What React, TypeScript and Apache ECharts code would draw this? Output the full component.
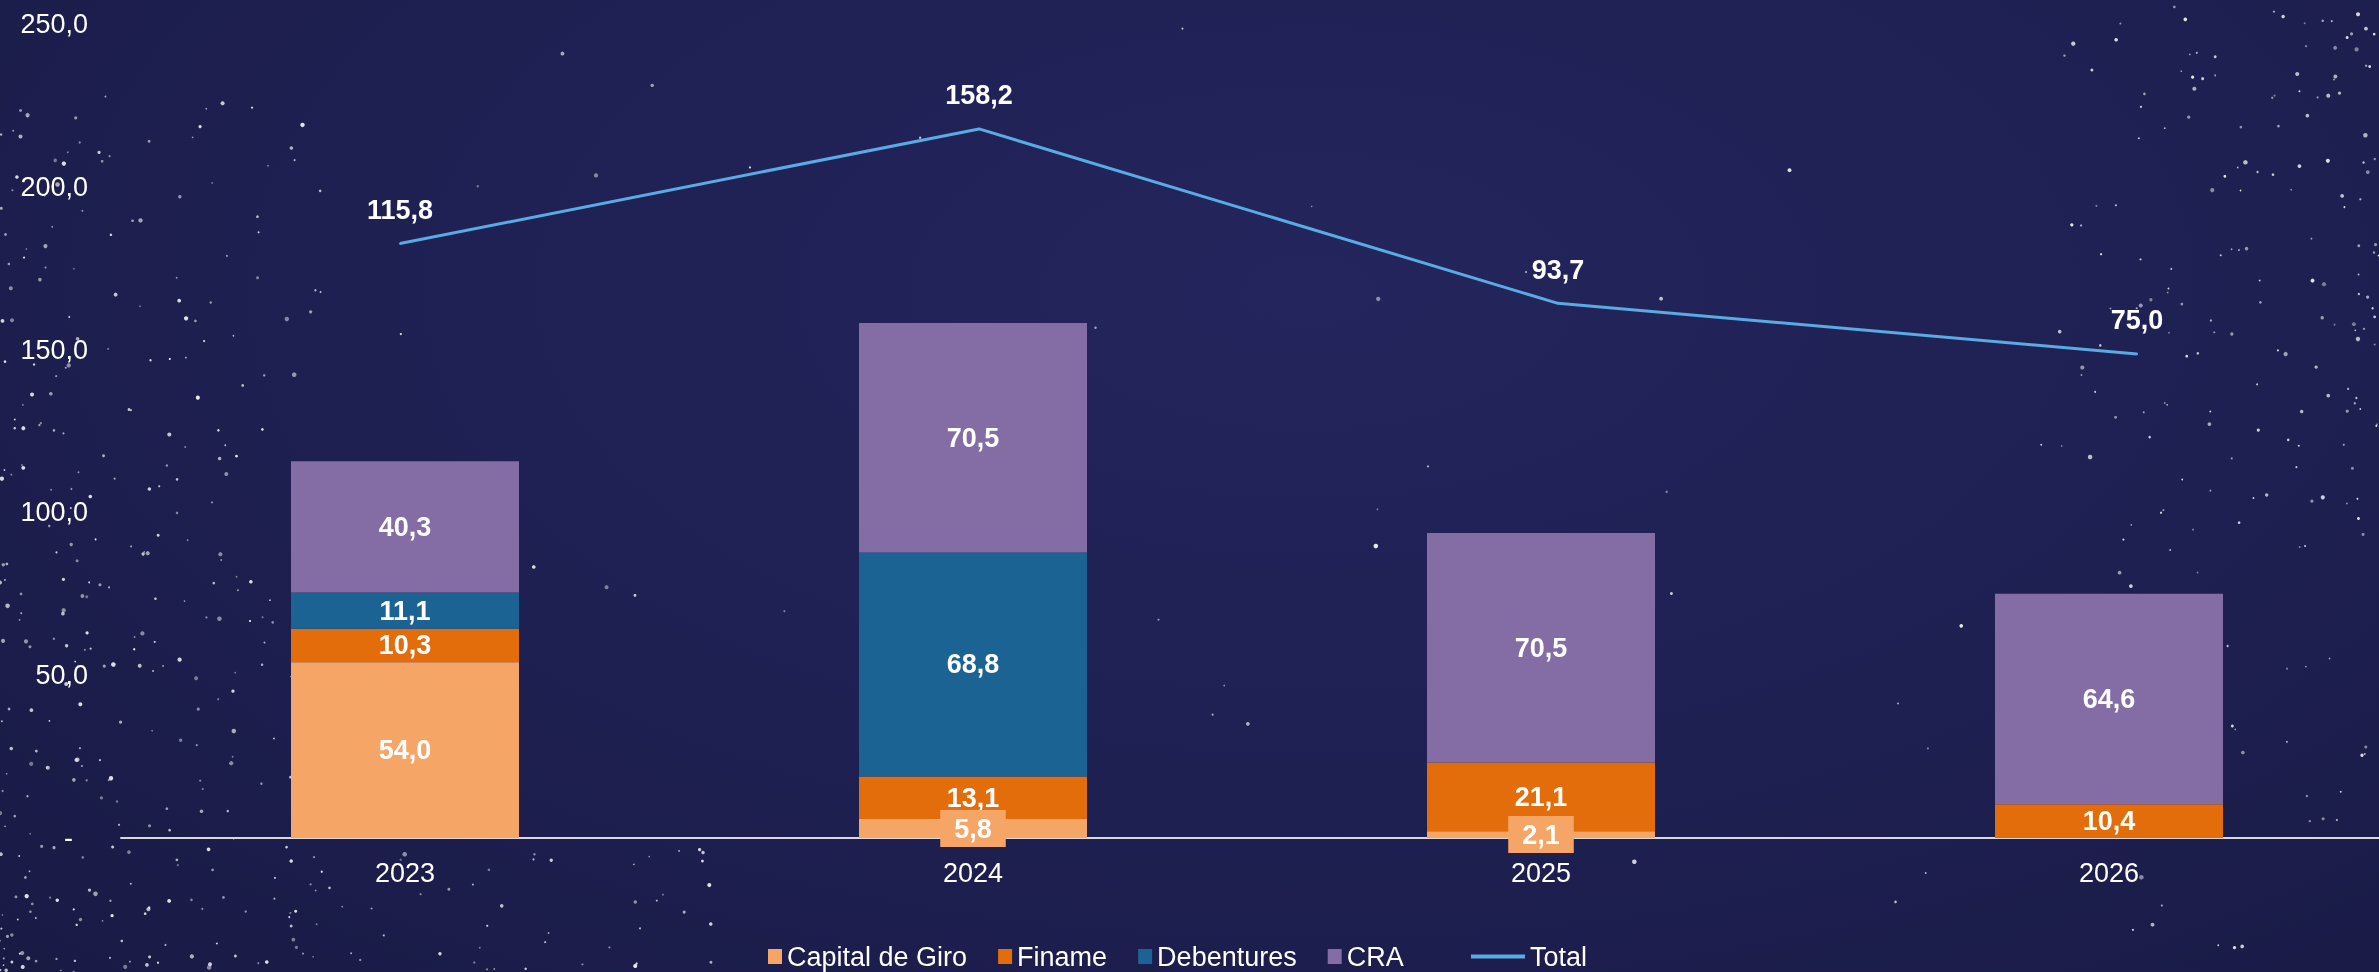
import React, { useEffect, useRef } from "react";
import * as echarts from "echarts";

const years = ["2023", "2024", "2025", "2026"];
const capitalDeGiro = [54.0, 5.8, 2.1, null];
const finame = [10.3, 13.1, 21.1, 10.4];
const debentures = [11.1, 68.8, null, null];
const cra = [40.3, 70.5, 70.5, 64.6];
const total = [115.8, 158.2, 93.7, 75.0];
const yTicks = [0, 50, 100, 150, 200, 250];

const FONT = "'Liberation Sans', Arial, sans-serif";
const COLORS = {
  capital: "#F5A666",
  finame: "#E36C0B",
  debentures: "#1B6393",
  cra: "#846CA5",
  total: "#59ABE3",
};

const fmt = (v: number) => v.toFixed(1).replace(".", ",");

function makeStars() {
  let s = 987654321;
  const rnd = () => {
    s = (Math.imul(s, 1664525) + 1013904223) >>> 0;
    return s / 4294967296;
  };
  const stars: any[] = [];
  const add = (x: number, y: number) => {
    const r = 0.8 + 1.5 * Math.pow(rnd(), 2);
    const a = 0.4 + 0.5 * rnd();
    stars.push({
      type: "circle",
      silent: true,
      z: 0,
      shape: { cx: x, cy: y, r },
      style: { fill: `rgba(255,255,255,${a.toFixed(2)})` },
    });
  };
  for (let i = 0; i < 320; i++) add(330 * Math.pow(rnd(), 1.5), 972 - 880 * Math.pow(rnd(), 1.3));
  for (let i = 0; i < 90; i++) add(720 * Math.pow(rnd(), 1.2), 845 + 127 * rnd());
  for (let i = 0; i < 170; i++) add(2379 - 320 * Math.pow(rnd(), 1.4), 560 * rnd());
  for (let i = 0; i < 45; i++) add(2379 - 260 * rnd(), 560 + 412 * rnd());
  for (let i = 0; i < 50; i++) add(330 + 1800 * rnd(), 972 * rnd());
  return stars;
}

export default function App() {
  const ref = useRef<HTMLDivElement>(null);
  useEffect(() => {
    if (!ref.current) return;
    const chart = echarts.init(ref.current, null, { renderer: "svg" });
    const barLabel = {
      show: true,
      position: "inside",
      color: "#FFFFFF",
      fontWeight: "bold",
      fontSize: 27,
      fontFamily: FONT,
      formatter: (p: any) => fmt(p.value),
    };
    const legendText = { color: "#FFFFFF", fontSize: 27, fontFamily: FONT };
    const option: any = {
      animation: false,
      backgroundColor: "transparent",
      textStyle: { fontFamily: FONT },
      graphic: { elements: makeStars() },
      grid: [
        { left: 121, width: 2272, top: 24, height: 814, containLabel: false },
        { left: 110.5, width: 2316, top: 24, height: 814, containLabel: false },
      ],
      legend: [
        {
          data: ["Capital de Giro", "Finame", "Debentures", "CRA"],
          left: 768,
          top: 943,
          padding: 0,
          icon: "rect",
          itemWidth: 14,
          itemHeight: 15,
          itemGap: 31,
          textStyle: legendText,
        },
        {
          data: ["Total"],
          left: 1471,
          top: 943,
          padding: 0,
          icon: "path://M0,0H54V4H0Z",
          itemWidth: 54,
          itemHeight: 15,
          textStyle: legendText,
        },
      ],
      xAxis: [
        {
          type: "category",
          gridIndex: 0,
          data: years,
          axisLine: { show: true, lineStyle: { color: "#D9D9D9", width: 2 } },
          axisTick: { show: false },
          axisLabel: { color: "#FFFFFF", fontSize: 27, margin: 21, fontFamily: FONT },
        },
        {
          type: "category",
          gridIndex: 1,
          data: years,
          show: false,
        },
      ],
      yAxis: [
        {
          type: "value",
          gridIndex: 0,
          min: yTicks[0],
          max: yTicks[yTicks.length - 1],
          interval: yTicks[1] - yTicks[0],
          axisLine: { show: false },
          axisTick: { show: false },
          splitLine: { show: false },
          axisLabel: {
            color: "#FFFFFF",
            fontSize: 27,
            margin: 33,
            fontFamily: FONT,
            formatter: (v: number) => (v === 0 ? "{z|-}" : fmt(v)),
            rich: { z: { color: "#FFFFFF", fontSize: 27, fontFamily: FONT, padding: [0, 15, 0, 0] } },
          },
        },
        {
          type: "value",
          gridIndex: 1,
          min: -104,
          max: 197,
          show: false,
          splitLine: { show: false },
        },
      ],
      series: [
        {
          name: "Capital de Giro",
          type: "bar",
          stack: "s",
          barWidth: 228,
          data: capitalDeGiro,
          itemStyle: { color: COLORS.capital },
          label: { ...barLabel, backgroundColor: COLORS.capital, padding: [5, 14] },
          z: 3,
        },
        {
          name: "Finame",
          type: "bar",
          stack: "s",
          barWidth: 228,
          data: finame,
          itemStyle: { color: COLORS.finame },
          label: barLabel,
          z: 2,
        },
        {
          name: "Debentures",
          type: "bar",
          stack: "s",
          barWidth: 228,
          data: debentures,
          itemStyle: { color: COLORS.debentures },
          label: barLabel,
          z: 2,
        },
        {
          name: "CRA",
          type: "bar",
          stack: "s",
          barWidth: 228,
          data: cra,
          itemStyle: { color: COLORS.cra },
          label: barLabel,
          z: 2,
        },
        {
          name: "Total",
          type: "line",
          xAxisIndex: 1,
          yAxisIndex: 1,
          data: total,
          symbol: "circle",
          symbolSize: 2,
          itemStyle: { color: COLORS.total },
          lineStyle: { color: COLORS.total, width: 3 },
          label: {
            show: true,
            position: "top",
            distance: 19,
            color: "#FFFFFF",
            fontWeight: "bold",
            fontSize: 27,
            fontFamily: FONT,
            formatter: (p: any) => fmt(p.value),
          },
          z: 4,
        },
      ],
    };
    chart.setOption(option);
    return () => chart.dispose();
  }, []);
  return (
    <div
      style={{
        position: "fixed",
        left: 0,
        top: 0,
        width: 2379,
        height: 972,
        overflow: "hidden",
        background:
          "radial-gradient(ellipse at 55% 30%, #23255C 0%, #1F2154 45%, #191A44 100%)",
      }}
    >
      <div ref={ref} style={{ position: "absolute", left: 0, top: 0, width: 2460, height: 972 }} />
    </div>
  );
}
